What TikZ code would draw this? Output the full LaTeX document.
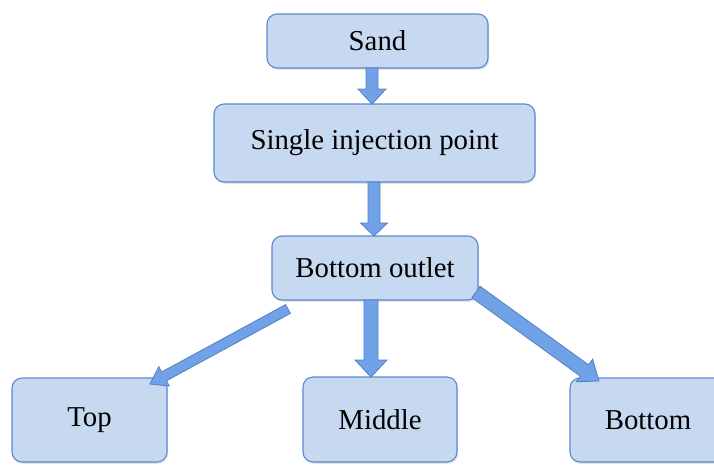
\documentclass[tikz,border=0pt]{standalone}
\usepackage{fontspec}
\setmainfont{Liberation Serif}
\usetikzlibrary{calc,shadows}
\definecolor{boxfill}{HTML}{C6D9F1}
\definecolor{boxline}{HTML}{5A8AD0}
\definecolor{arrfill}{HTML}{71A2E8}
\definecolor{arrline}{HTML}{4F81C6}
\tikzset{
  flowbox/.style={draw=boxline, fill=boxfill, line width=1.1pt, rounded corners=10pt,
    inner sep=0pt, outer sep=0pt, font=\fontsize{28.8}{34}\selectfont,
    drop shadow={opacity=0.22, shadow xshift=1.2pt, shadow yshift=-1.8pt}},
  barrow/.style={draw=arrline, fill=arrfill, line width=0.8pt, line join=miter}
}
\newcommand\blockarrow[5]{%
  \path ($(#2)!#5!(#1)$) coordinate (bh);
  \draw[barrow] ($(#1)!#3!90:(#2)$) -- ($(bh)!#3!90:(#2)$) -- ($(bh)!#4!90:(#2)$)
    -- (#2) -- ($(bh)!#4!-90:(#2)$) -- ($(bh)!#3!-90:(#2)$) -- ($(#1)!#3!-90:(#2)$) -- cycle;}
\begin{document}
\begin{tikzpicture}[x=1pt,y=-1pt]
\useasboundingbox (0,0) rectangle (714,464);
\clip (0,0) rectangle (714,464);
\node[flowbox, minimum width=221pt, minimum height=54pt] (sand) at (377.5,41) {Sand};
\node[flowbox, minimum width=321pt, minimum height=78pt] (single) at (374.5,143) {Single injection point};
\node[flowbox, minimum width=206pt, minimum height=64pt] (outlet) at (375,268) {Bottom outlet};
\node[flowbox, minimum width=155pt, minimum height=84pt] (top) at (89.5,420) {Top};
\node[flowbox, minimum width=154pt, minimum height=85pt] (middle) at (380,419.5) {Middle};
\node[flowbox, minimum width=156pt, minimum height=84pt] (bottom) at (648,420) {Bottom};
% connector end points
\coordinate (a1s) at ($(sand.south)+(-5.5,0)$);
\coordinate (a1e) at ($(single.north)+(-2.5,0)$);
\coordinate (a2s) at ($(single.south)+(-0.5,0)$);
\coordinate (a2e) at ($(outlet.north)+(-1,0)$);
\coordinate (a3s) at ($(outlet.south)+(-4,0)$);
\coordinate (a3e) at ($(middle.north)+(-9,0)$);
\coordinate (a4s) at ($(outlet.south west)+(16,9)$);
\coordinate (a4e) at ($(top.north east)+(-17,6)$);
\coordinate (a5s) at ($(outlet.south east)+(-2,-8)$);
\coordinate (a5e) at ($(bottom.north west)+(29,3)$);
\blockarrow{a1s}{a1e}{6pt}{14pt}{15pt}
\blockarrow{a2s}{a2e}{6pt}{13.5pt}{13pt}
\blockarrow{a3s}{a3e}{7pt}{16pt}{17pt}
\blockarrow{a4s}{a4e}{5pt}{11pt}{16pt}
\blockarrow{a5s}{a5e}{7pt}{14pt}{18pt}
\end{tikzpicture}
\end{document}
